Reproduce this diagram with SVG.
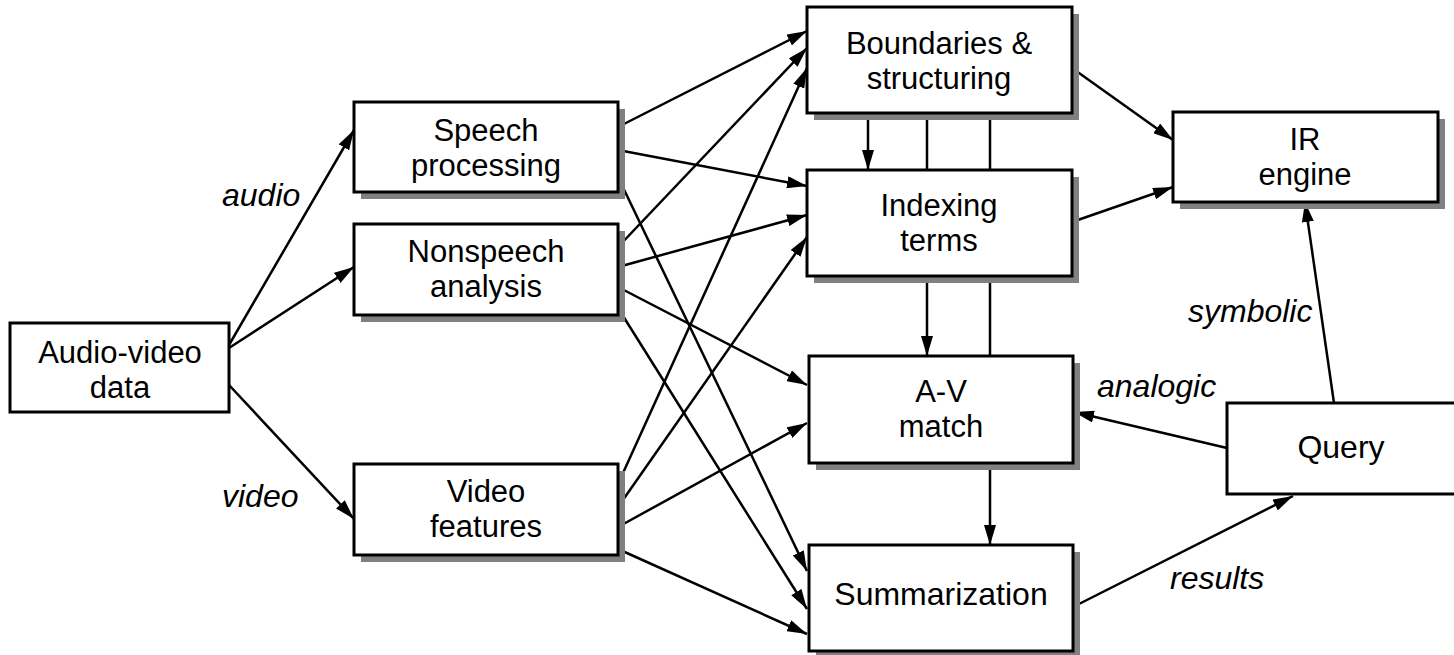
<svg xmlns="http://www.w3.org/2000/svg" width="1454" height="655" viewBox="0 0 1454 655">
<style>
.box{fill:#fff;stroke:#000;stroke-width:3}
.shadow{fill:#808080}
.t{font-family:"Liberation Sans",Arial,sans-serif;font-size:31px;fill:#000;text-anchor:middle}
.t1{font-family:"Liberation Sans",Arial,sans-serif;font-size:32px;fill:#000;text-anchor:middle}
.lbl{font-family:"Liberation Sans",Arial,sans-serif;font-size:32px;font-style:italic;fill:#000}
.c{stroke:#000;stroke-width:2.5;fill:none}
.a{stroke:#000;stroke-width:2.5;fill:none;marker-end:url(#arr)}
</style>
<defs>
<marker id="arr" markerUnits="userSpaceOnUse" markerWidth="20" markerHeight="12" refX="20" refY="6" orient="auto">
<path d="M0,0 L20,6 L0,12 z" fill="#000"/>
</marker>
</defs>
<rect width="1454" height="655" fill="#fff"/>

<g id="connectors">
<line class="a" x1="229" y1="345" x2="354" y2="130"/>
<line class="a" x1="229" y1="348" x2="354" y2="267"/>
<line class="a" x1="229" y1="385" x2="354" y2="519"/>

<line class="a" x1="618" y1="127" x2="807" y2="31"/>
<line class="a" x1="618" y1="150" x2="807" y2="186"/>
<line class="a" x1="618" y1="177" x2="807" y2="571"/>

<line class="a" x1="618" y1="247" x2="807" y2="48"/>
<line class="a" x1="618" y1="267" x2="807" y2="215"/>
<line class="a" x1="618" y1="287" x2="807" y2="385"/>
<line class="a" x1="618" y1="308" x2="807" y2="609"/>

<line class="a" x1="618" y1="484" x2="807" y2="68"/>
<line class="a" x1="618" y1="507" x2="807" y2="237"/>
<line class="a" x1="618" y1="527" x2="807" y2="423"/>
<line class="a" x1="618" y1="549" x2="807" y2="634"/>

<line class="a" x1="868" y1="113" x2="868" y2="170"/>
<line class="c" x1="927" y1="113" x2="927" y2="170"/>
<line class="c" x1="990" y1="113" x2="990" y2="170"/>
<line class="a" x1="927" y1="276" x2="927" y2="356"/>
<line class="c" x1="990" y1="276" x2="990" y2="356"/>
<line class="a" x1="990" y1="463" x2="990" y2="545"/>

<line class="a" x1="1072" y1="68" x2="1173" y2="140"/>
<line class="a" x1="1072" y1="222" x2="1173" y2="187"/>
<line class="a" x1="1334" y1="403" x2="1305" y2="202"/>
<line class="a" x1="1227" y1="448" x2="1074" y2="412"/>
<line class="a" x1="1073" y1="607" x2="1293" y2="496"/>
</g>

<g id="labels">
<text class="lbl" x="222" y="206">audio</text>
<text class="lbl" x="222" y="507">video</text>
<text class="lbl" x="1188" y="322">symbolic</text>
<text class="lbl" x="1097" y="397">analogic</text>
<text class="lbl" x="1170" y="589">results</text>
</g>

<g id="audio-video">
<rect class="box" x="10" y="323" width="219" height="89"/>
<text class="t" x="120" y="363">Audio-video<tspan x="120" dy="35">data</tspan></text>
</g>

<g id="speech">
<rect class="shadow" x="361" y="109" width="264" height="90"/>
<rect class="box" x="354" y="102" width="264" height="90"/>
<text class="t" x="486" y="141">Speech<tspan x="486" dy="35">processing</tspan></text>
</g>

<g id="nonspeech">
<rect class="shadow" x="361" y="231" width="264" height="91"/>
<rect class="box" x="354" y="224" width="264" height="91"/>
<text class="t" x="486" y="262">Nonspeech<tspan x="486" dy="35">analysis</tspan></text>
</g>

<g id="video">
<rect class="shadow" x="361" y="471" width="264" height="91"/>
<rect class="box" x="354" y="464" width="264" height="91"/>
<text class="t" x="486" y="502">Video<tspan x="486" dy="35">features</tspan></text>
</g>

<g id="boundaries">
<rect class="shadow" x="814" y="14" width="265" height="106"/>
<rect class="box" x="807" y="7" width="265" height="106"/>
<text class="t" x="939" y="54">Boundaries &amp;<tspan x="939" dy="35">structuring</tspan></text>
</g>

<g id="indexing">
<rect class="shadow" x="814" y="177" width="265" height="106"/>
<rect class="box" x="807" y="170" width="265" height="106"/>
<text class="t" x="939" y="216">Indexing<tspan x="939" dy="35">terms</tspan></text>
</g>

<g id="avmatch">
<rect class="shadow" x="816" y="363" width="264" height="107"/>
<rect class="box" x="809" y="356" width="264" height="107"/>
<text class="t" x="941" y="402">A-V<tspan x="941" dy="35">match</tspan></text>
</g>

<g id="summarization">
<rect class="shadow" x="816" y="552" width="264" height="106"/>
<rect class="box" x="809" y="545" width="264" height="106"/>
<text class="t1" x="941" y="605">Summarization</text>
</g>

<g id="ir">
<rect class="shadow" x="1180" y="119" width="265" height="90"/>
<rect class="box" x="1173" y="112" width="265" height="90"/>
<text class="t" x="1305" y="150">IR<tspan x="1305" dy="35">engine</tspan></text>
</g>

<g id="query">
<rect class="box" x="1227" y="403" width="230" height="91"/>
<text class="t1" x="1341" y="458">Query</text>
</g>
</svg>
